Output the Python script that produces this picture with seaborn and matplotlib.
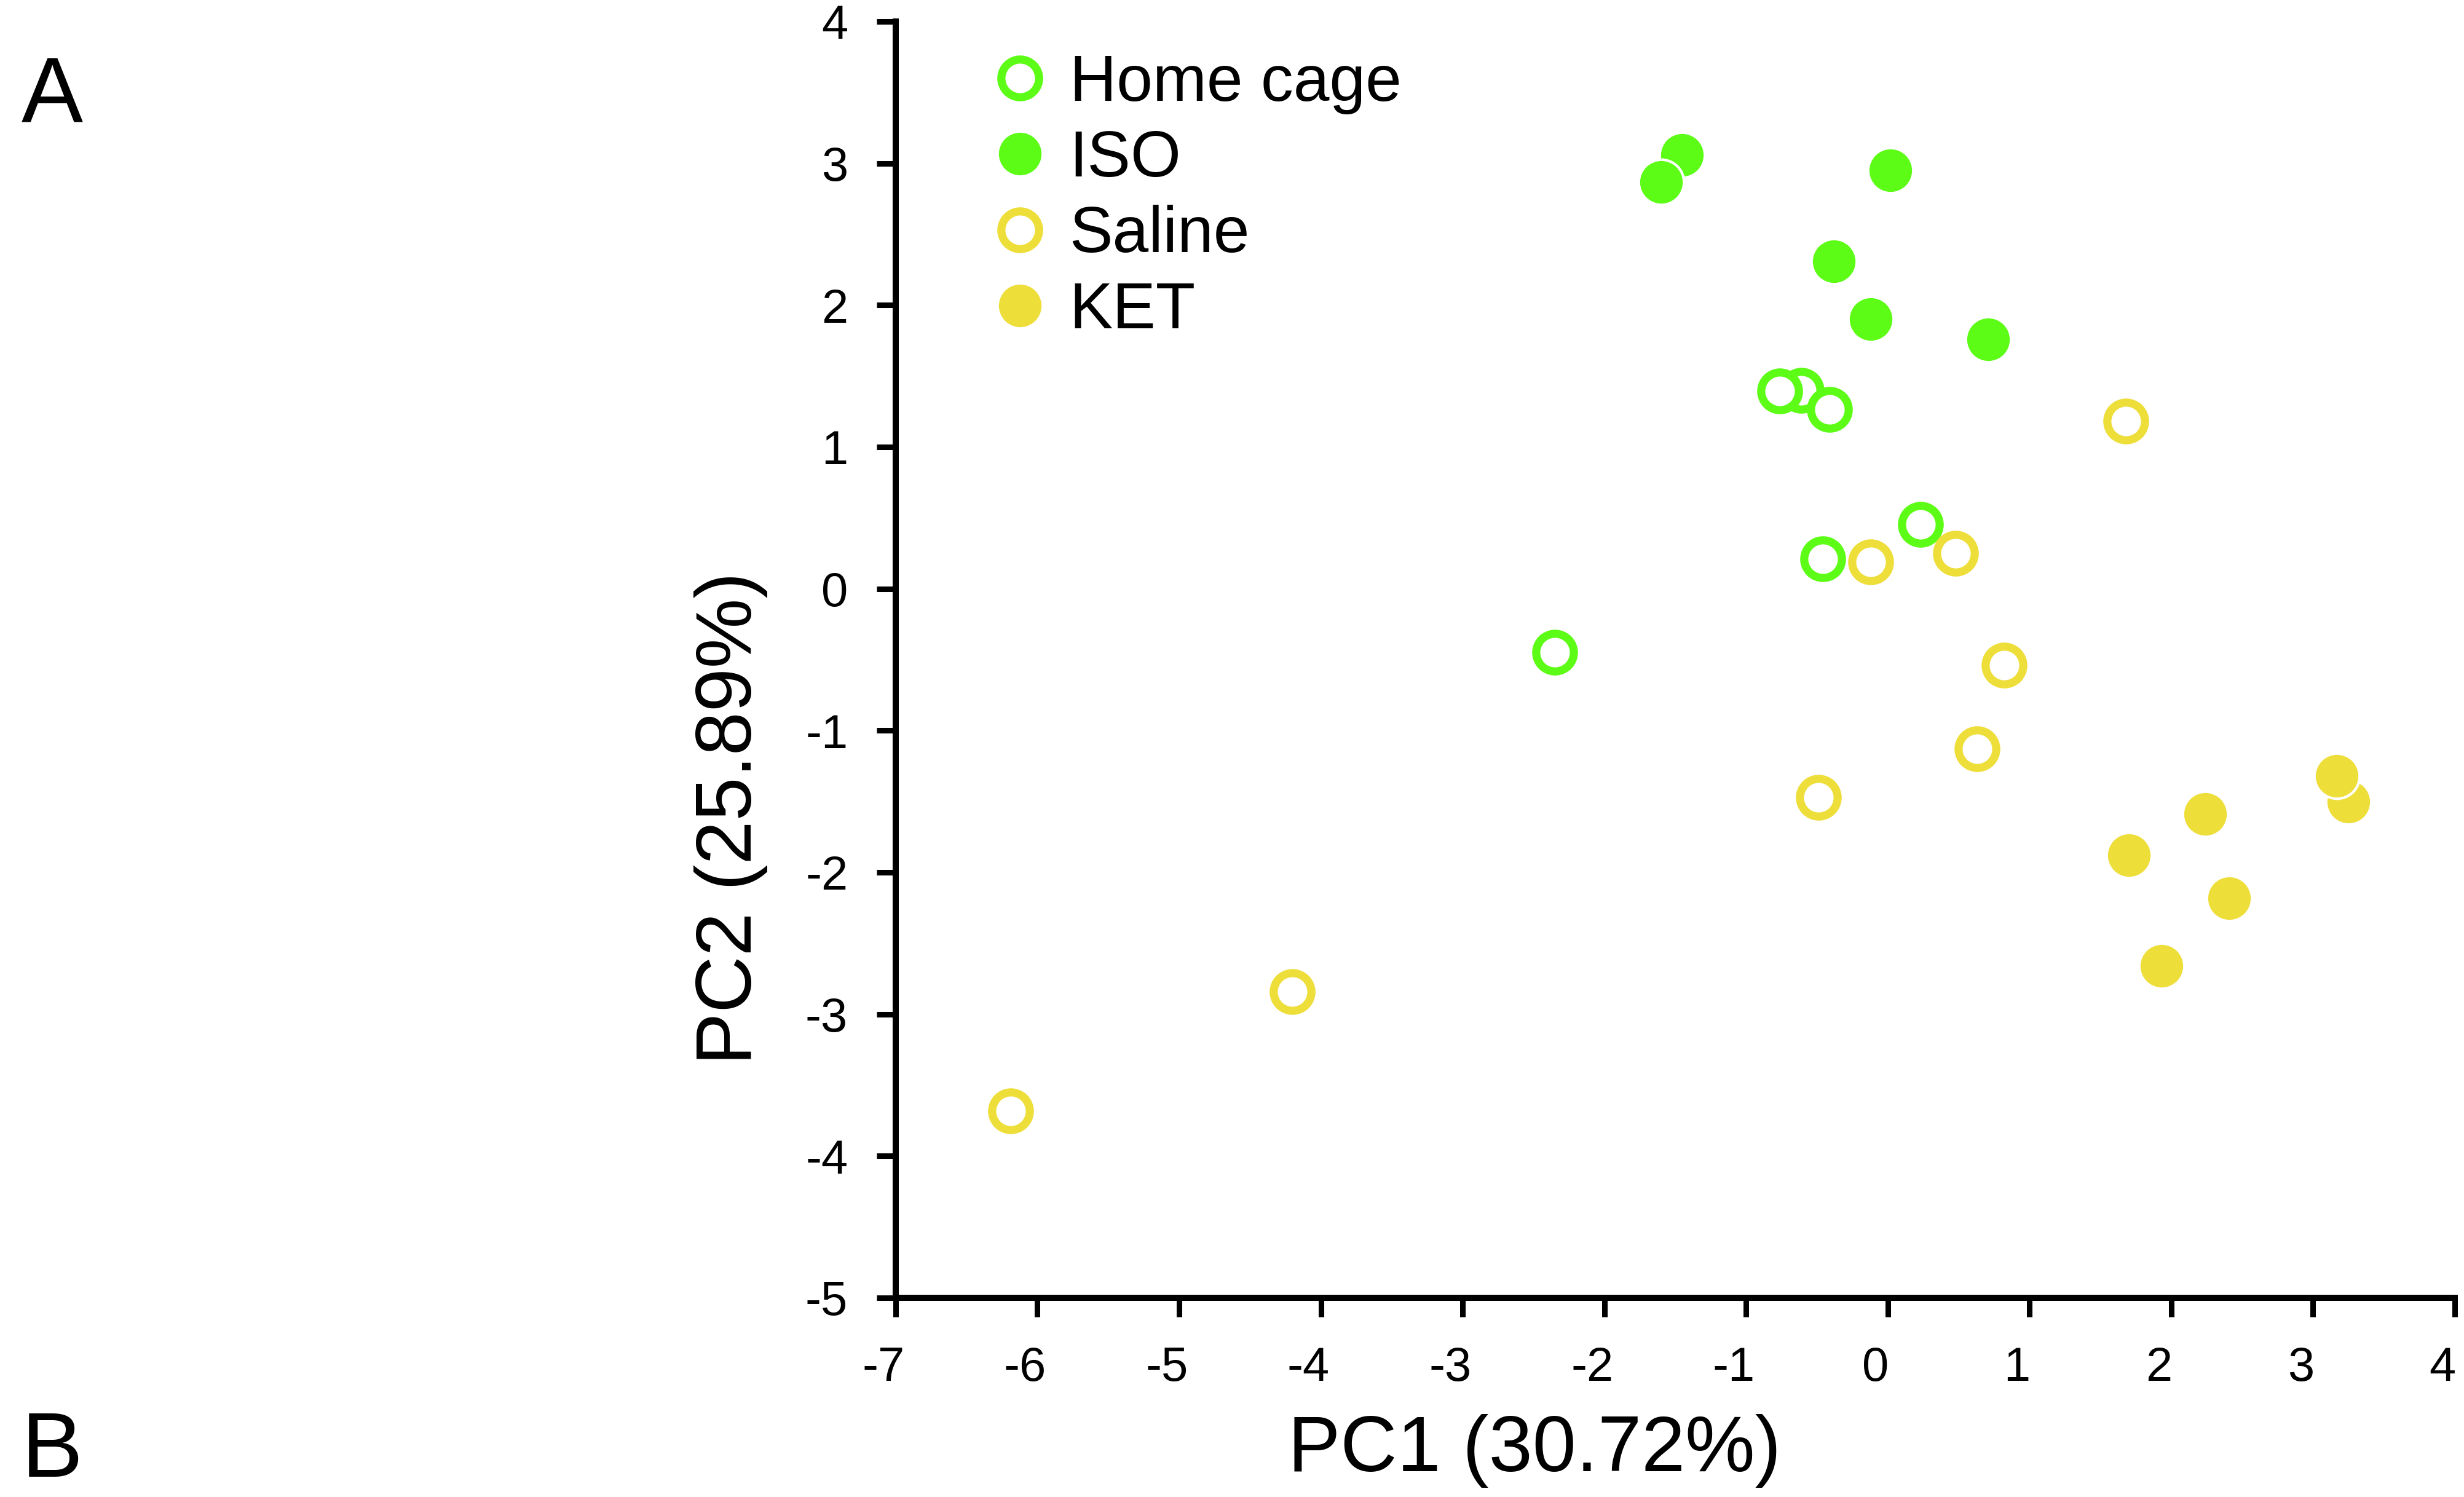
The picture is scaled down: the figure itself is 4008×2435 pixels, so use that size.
import matplotlib
matplotlib.use("Agg")
import matplotlib.pyplot as plt
import matplotlib.transforms as mtransforms
import seaborn as sns

# ---------------- data ----------------
groups = ["Home cage", "ISO", "Saline", "KET"]

home_x = [-0.61, -0.76, -0.41, 0.23, -0.46, -2.35]
home_y = [1.40, 1.395, 1.265, 0.455, 0.21, -0.45]

iso_x = [-1.45, -1.60, 0.02, -0.38, -0.12, 0.71]
iso_y = [3.06, 2.87, 2.95, 2.31, 1.90, 1.76]

saline_x = [1.68, -0.12, 0.48, 0.82, 0.63, -0.49, -4.20, -6.19]
saline_y = [1.18, 0.19, 0.25, -0.54, -1.13, -1.47, -2.84, -3.68]

ket_x = [3.25, 3.17, 2.24, 1.70, 2.41, 1.93]
ket_y = [-1.50, -1.32, -1.59, -1.88, -2.18, -2.66]

x_ticks = list(range(-7, 5))
y_ticks = list(range(-5, 5))
x_label = "PC1 (30.72%)"
y_label = "PC2 (25.89%)"

GREEN = "#5DFC16"
YELLOW = "#EEDE3A"

# ---------------- style ----------------
sns.set_style("white")
plt.rcParams["font.family"] = ["Liberation Sans", "DejaVu Sans"]
plt.rcParams["axes.unicode_minus"] = False
plt.rcParams["text.color"] = "black"

fig = plt.figure(figsize=(40.08, 24.35), dpi=100)
ax = fig.add_axes([0.3635, 0.13306, 0.6327, 0.85257])

hollow = dict(s=1950, linewidth=9.5, marker="o", facecolor="white", legend=False)
filled = dict(s=2800, linewidth=3.0, marker="o", edgecolor="white", legend=False)

sns.scatterplot(x=home_x, y=home_y, ax=ax, edgecolor=GREEN, label=groups[0], zorder=3, **hollow)
sns.scatterplot(x=iso_x, y=iso_y, ax=ax, color=GREEN, label=groups[1], zorder=3, **filled)
sns.scatterplot(x=saline_x, y=saline_y, ax=ax, edgecolor=YELLOW, label=groups[2], zorder=3, **hollow)
sns.scatterplot(x=ket_x, y=ket_y, ax=ax, color=YELLOW, label=groups[3], zorder=3, **filled)

ax.set_xlim(-7, 4)
ax.set_ylim(-5, 4)
ax.set_xticks(x_ticks)
ax.set_yticks(y_ticks)
ax.set_xticklabels([str(v) for v in x_ticks])
ax.set_yticklabels([str(v) for v in y_ticks])

for side in ["top", "right"]:
    ax.spines[side].set_visible(False)
for side in ["left", "bottom"]:
    ax.spines[side].set_linewidth(7.2)
    ax.spines[side].set_color("black")

ax.tick_params(axis="both", direction="out", length=22, width=6.5,
               labelsize=56, pad=34, color="black", labelcolor="black",
               bottom=True, left=True)

# x tick labels sit slightly left of their ticks in the reference
shift = mtransforms.ScaledTranslation(-0.2, 0, fig.dpi_scale_trans)
for lbl in ax.get_xticklabels():
    lbl.set_transform(lbl.get_transform() + shift)

ax.set_xlabel(x_label, fontsize=92, color="black")
ax.set_ylabel(y_label, fontsize=92, color="black")
ax.xaxis.set_label_coords(0.4097, -0.091)
ax.yaxis.set_label_coords(-0.082, 0.3757)

handles = ax.collections[:4]
leg = ax.legend(handles=handles, labels=groups, loc="upper left",
                bbox_to_anchor=(0.059, 0.975), frameon=False, fontsize=76,
                borderpad=0, borderaxespad=0, labelspacing=0.23,
                handlelength=1.0, handletextpad=0.26, scatterpoints=1,
                scatteryoffsets=[0.5], labelcolor="black")

fig.text(0.00873, 0.9183, "A", fontsize=108, ha="left", va="baseline", color="black")
fig.text(0.00873, 0.001, "B", fontsize=108, ha="left", va="bottom", color="black")

fig.savefig("out.png", dpi=100, facecolor="white")
